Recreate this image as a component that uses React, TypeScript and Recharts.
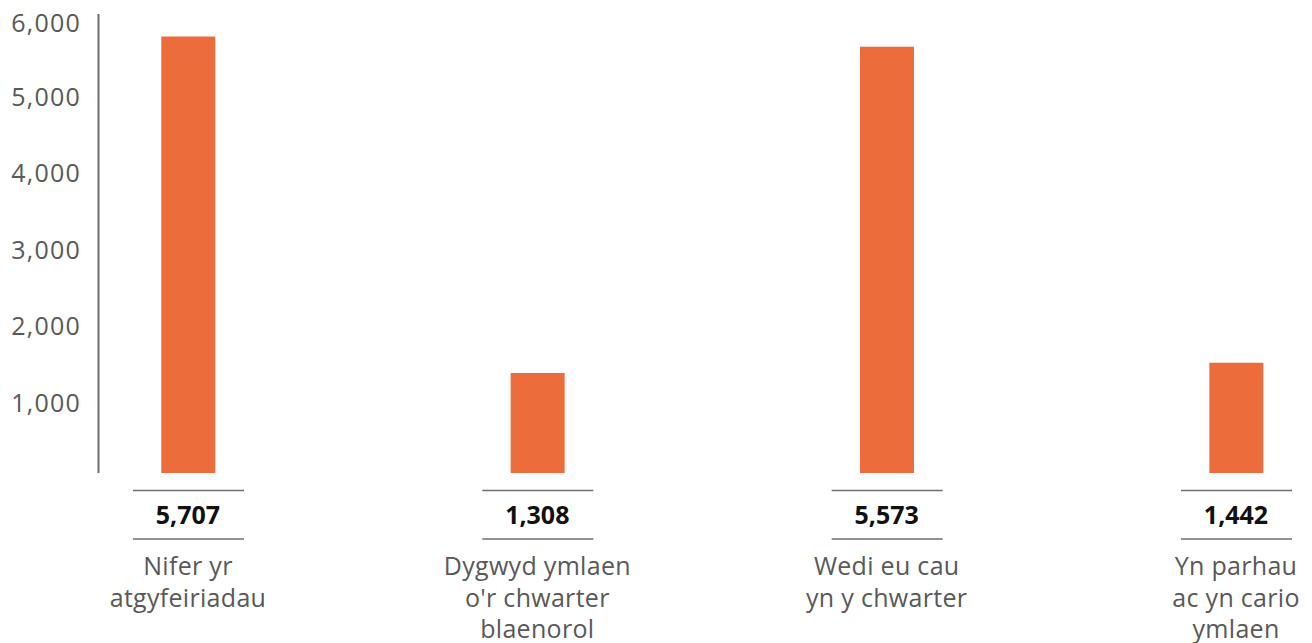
import { BarChart, Bar, XAxis, YAxis } from 'recharts';

// category names, line breaks as they are wrapped under each bar
const categories = [
  'Nifer yr\natgyfeiriadau',
  "Dygwyd ymlaen\no'r chwarter\nblaenorol",
  'Wedi eu cau\nyn y chwarter',
  'Yn parhau\nac yn cario\nymlaen',
];
const counts = [5707, 1308, 5573, 1442];
const yTicks = [1000, 2000, 3000, 4000, 5000, 6000];

const data = categories.map((name, i) => ({ name, count: counts[i] }));

const ORANGE = '#ec6c3b';
const GREY = '#6f6f6f';
const TEXT = '#595959';
const FONT = '"Open Sans", sans-serif';

const fmt = (v: number) => v.toLocaleString('en-US');

const YTick = ({ x, y, payload }: any) => (
  <text
    x={x - 17.5}
    y={y + 5}
    textAnchor="end"
    dominantBaseline="central"
    fontFamily={FONT}
    fontSize={25}
    letterSpacing={1.2}
    fill={TEXT}
  >
    {fmt(payload.value)}
  </text>
);

const XTick = ({ x, y, payload, index }: any) => {
  const lines = String(payload.value).split('\n');
  const i = index ?? payload.index;
  return (
    <g>
      <line x1={x - 55} x2={x + 56} y1={y + 17.5} y2={y + 17.5} stroke={GREY} strokeWidth={1.5} />
      <text
        x={x}
        y={y + 41}
        textAnchor="middle"
        dominantBaseline="central"
        fontFamily={FONT}
        fontWeight={700}
        fontSize={25}
        fill="#111"
      >
        {fmt(counts[i])}
      </text>
      <line x1={x - 55} x2={x + 56} y1={y + 66} y2={y + 66} stroke={GREY} strokeWidth={1.5} />
      {lines.map((line, k) => (
        <text
          key={k}
          x={x}
          y={y + 102 + k * 31.5}
          textAnchor="middle"
          fontFamily={FONT}
          fontSize={25}
          letterSpacing={0.3}
          fill={TEXT}
        >
          {line}
        </text>
      ))}
    </g>
  );
};

export default function App() {
  return (
    <BarChart width={1304} height={635} data={data} margin={{ top: 6, right: 0, bottom: 0, left: 0 }}>
      <XAxis
        dataKey="name"
        axisLine={false}
        tickLine={false}
        tickSize={0}
        tickMargin={0}
        interval={0}
        height={170}
        padding={{ left: -85.2, right: -98.7 }}
        tick={<XTick />}
      />
      <YAxis
        width={90.5}
        domain={[0, 6000]}
        ticks={yTicks}
        axisLine={{ stroke: GREY, strokeWidth: 2 }}
        tickLine={false}
        tickSize={0}
        tickMargin={0}
        tick={<YTick />}
      />
      <Bar dataKey="count" fill={ORANGE} barSize={54} isAnimationActive={false} />
    </BarChart>
  );
}
